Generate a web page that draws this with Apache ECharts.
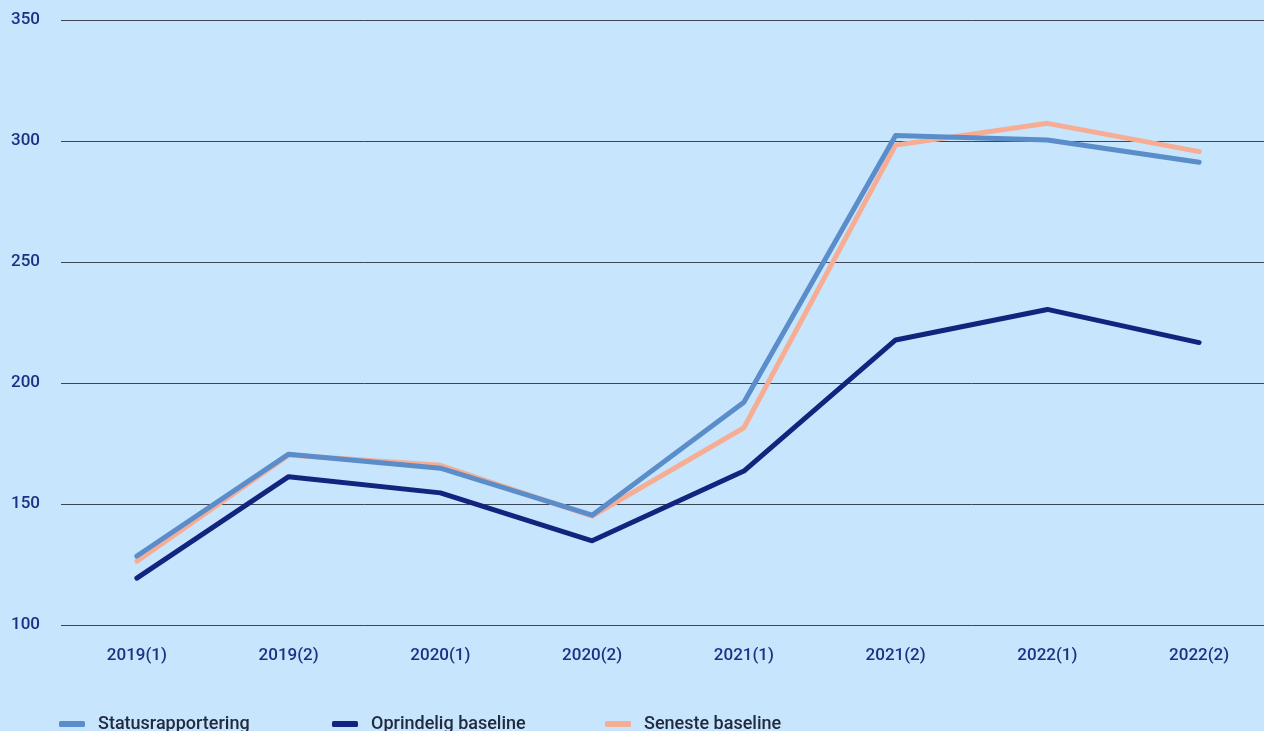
<!DOCTYPE html>
<html>
<head>
<meta charset="utf-8">
<script src="https://cdn.jsdelivr.net/npm/echarts@6/dist/echarts.min.js"></script>
<style>
html,body{margin:0;padding:0;background:#c7e5fd;overflow:hidden;}
#chart{width:1275px;height:731px;}
</style>
</head>
<body>
<div id="chart"></div>
<script>
const categories = ['2019(1)','2019(2)','2020(1)','2020(2)','2021(1)','2021(2)','2022(1)','2022(2)'];
const statusrapportering = [128.5, 170.6, 164.8, 145.4, 192.0, 302.3, 300.4, 291.2];
const oprindeligBaseline = [119.4, 161.3, 154.6, 134.8, 163.6, 217.8, 230.4, 216.7];
const senesteBaseline = [126.4, 170.2, 166.0, 145.0, 181.5, 298.3, 307.3, 295.6];
const seriesNames = ['Statusrapportering','Oprindelig baseline','Seneste baseline'];
const colors = ['#5a8dc9','#13247f','#f6ad93'];

const font = 'Roboto';
const textColor = '#1f2f86';
const chart = echarts.init(document.getElementById('chart'));

function legendFor(i, left){
  return {
    left: left, top: 710,
    data: [seriesNames[i]],
    icon: 'roundRect',
    itemWidth: 26, itemHeight: 6,
    textStyle: {color: '#222a3e', fontFamily: font, fontSize: 18, fontWeight: 500, padding: [0,0,0,8]}
  };
}

chart.setOption({
  backgroundColor: '#c7e5fd',
  animation: false,
  legend: [legendFor(0, 54), legendFor(1, 327), legendFor(2, 600)],
  grid: {left: 61, top: 20, right: 0, bottom: 106, containLabel: false},
  xAxis: {
    type: 'category',
    data: categories,
    boundaryGap: true,
    axisLine: {show: false},
    axisTick: {show: false},
    axisLabel: {color: textColor, fontFamily: font, fontSize: 17, fontWeight: 500, margin: 22}
  },
  yAxis: {
    type: 'value',
    min: 100, max: 350, interval: 50,
    axisLine: {show: false},
    axisTick: {show: false},
    axisLabel: {color: textColor, fontFamily: font, fontSize: 17, fontWeight: 500, align: 'left', margin: 50},
    splitLine: {lineStyle: {color: '#3d4654', width: 1}}
  },
  series: [
    {name: seriesNames[0], type: 'line', data: statusrapportering, z: 4, symbol: 'none',
     lineStyle: {color: colors[0], width: 5, cap: 'round', join: 'round'}, itemStyle: {color: colors[0]}},
    {name: seriesNames[1], type: 'line', data: oprindeligBaseline, z: 3, symbol: 'none',
     lineStyle: {color: colors[1], width: 5, cap: 'round', join: 'round'}, itemStyle: {color: colors[1]}},
    {name: seriesNames[2], type: 'line', data: senesteBaseline, z: 2, symbol: 'none',
     lineStyle: {color: colors[2], width: 5, cap: 'round', join: 'round'}, itemStyle: {color: colors[2]}}
  ]
});
</script>
</body>
</html>
